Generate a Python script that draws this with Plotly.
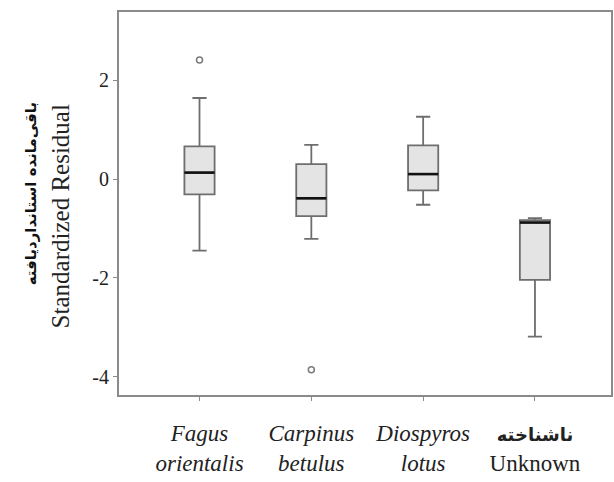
import plotly.graph_objects as go

# Species groups and their residual summaries
species = ["<i>Fagus</i><br><i>orientalis</i>",
           "<i>Carpinus</i><br><i>betulus</i>",
           "<i>Diospyros</i><br><i>lotus</i>",
           "<span style='font-size:18px'><b>ناشناخته</b></span><br>Unknown"]
positions = [0, 1, 2, 3]
q1 = [-0.31, -0.75, -0.23, -2.04]
median = [0.13, -0.39, 0.10, -0.88]
q3 = [0.66, 0.30, 0.68, -0.83]
lower_whisker = [-1.45, -1.21, -0.52, -3.19]
upper_whisker = [1.64, 0.69, 1.26, -0.79]
outlier_x = [0, 1]
outlier_y = [2.41, -3.86]
y_ticks = [-4, -2, 0, 2]

box_width = 0.27
frame_color = "#8a8a8a"
serif = "Liberation Serif, Times New Roman, DejaVu Sans, serif"

fig = go.Figure()

fig.add_trace(go.Box(
    x=positions, q1=q1, median=median, q3=q3,
    lowerfence=lower_whisker, upperfence=upper_whisker,
    width=box_width, whiskerwidth=0.47,
    fillcolor="#e4e4e4",
    line=dict(color="#6e6e6e", width=1.8),
    boxpoints=False, hoverinfo="skip", showlegend=False,
))

# Bold black median bars drawn on top of the boxes
med_x, med_y = [], []
for p, m in zip(positions, median):
    med_x += [p - box_width / 2, p + box_width / 2, None]
    med_y += [m, m, None]
fig.add_trace(go.Scatter(
    x=med_x, y=med_y, mode="lines",
    line=dict(color="#111111", width=2.6),
    hoverinfo="skip", showlegend=False,
))

fig.add_trace(go.Scatter(
    x=outlier_x, y=outlier_y, mode="markers",
    marker=dict(symbol="circle-open", size=6, color="#7a7a7a",
                line=dict(width=1.5)),
    hoverinfo="skip", showlegend=False,
))

axis_common = dict(
    showline=True, mirror=True, linecolor=frame_color, linewidth=2,
    showgrid=False, zeroline=False,
    ticks="outside", ticklen=4, tickwidth=1, tickcolor=frame_color,
)

fig.update_xaxes(
    range=[-0.72, 3.68],
    tickmode="array", tickvals=positions, ticktext=species,
    tickfont=dict(family=serif, size=23, color="#222222"),
    ticklabelstandoff=12,
    **axis_common,
)
fig.update_yaxes(
    range=[-4.37, 3.38],
    tickmode="array", tickvals=y_ticks, ticktext=[str(v) for v in y_ticks],
    tickfont=dict(family=serif, size=20, color="#222222"),
    **axis_common,
)

# Two-line bilingual axis title
fig.add_annotation(
    text="<b>باقی‌مانده استانداردیافته</b>",
    xref="paper", yref="paper", x=(31 - 119) / 494, y=0.525,
    xanchor="center", yanchor="middle", textangle=-90, showarrow=False,
    font=dict(family="DejaVu Sans, sans-serif", size=15, color="#111111"),
)
fig.add_annotation(
    text="Standardized Residual",
    xref="paper", yref="paper", x=(60 - 119) / 494, y=0.467,
    xanchor="center", yanchor="middle", textangle=-90, showarrow=False,
    font=dict(family=serif, size=25, color="#222222"),
)

fig.update_layout(
    width=614, height=482,
    margin=dict(l=119, r=1, t=12, b=87),
    paper_bgcolor="white", plot_bgcolor="white",
)

fig.write_html("out.html")
